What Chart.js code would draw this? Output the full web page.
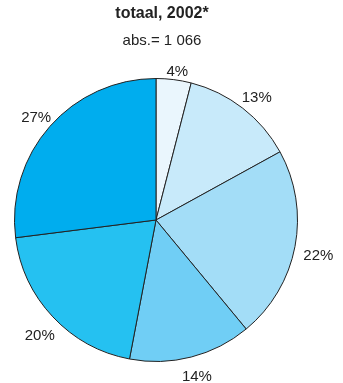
<!DOCTYPE html>
<html>
<head>
<meta charset="utf-8">
<script src="https://cdn.jsdelivr.net/npm/chart.js@4"></script>
<style>
  html, body { margin: 0; padding: 0; background: #fff; }
  #wrap { width: 343px; height: 383px; position: relative; }
</style>
</head>
<body>
<div id="wrap"><canvas id="pieChart" width="343" height="383"></canvas></div>
<script>
// Data
const chartTitle = 'totaal, 2002*';
const chartSubtitle = 'abs.= 1 066';
const categories = ['a', 'b', 'c', 'd', 'e', 'f'];
const shares = [4, 13, 22, 14, 20, 27];
const sliceLabels = ['4%', '13%', '22%', '14%', '20%', '27%'];
const sliceColors = ['#EAF6FD', '#C8EAFA', '#A3DDF7', '#70CEF5', '#25C1F1', '#00ADEE'];

const FONT = '"Liberation Sans", Arial, sans-serif';

// Titels en labels buiten de taart
const textPlugin = {
    id: 'pieText',
    afterDatasetsDraw(chart) {
        const ctx = chart.ctx;
        ctx.save();
        ctx.fillStyle = '#222';
        ctx.textAlign = 'center';
        ctx.textBaseline = 'middle';
        ctx.font = 'bold 16px ' + FONT;
        ctx.fillText(chartTitle, 162, 14);
        ctx.font = '15px ' + FONT;
        ctx.fillText(chartSubtitle, 162, 41);

        const meta = chart.getDatasetMeta(0);
        const h = 11;
        meta.data.forEach((arc, i) => {
            const p = arc.getProps(['x', 'y', 'startAngle', 'endAngle', 'outerRadius'], true);
            const mid = (p.startAngle + p.endAngle) / 2;
            const w = ctx.measureText(sliceLabels[i]).width;
            const c = Math.cos(mid), s = Math.sin(mid);
            // afstand tot de rand van het tekstvak
            const ext = Math.abs(c) * w / 2 + Math.abs(s) * h / 2;
            const r = p.outerRadius + 6 + ext;
            ctx.fillText(sliceLabels[i], p.x + c * r + 2, p.y + s * r + 5);
        });
        ctx.restore();
    }
};

new Chart(document.getElementById('pieChart').getContext('2d'), {
    type: 'pie',
    data: {
        labels: categories,
        datasets: [{
            data: shares,
            backgroundColor: sliceColors,
            borderColor: '#222',
            borderWidth: 1
        }]
    },
    options: {
        responsive: false,
        animation: false,
        layout: { padding: { left: 14, right: 45, top: 78, bottom: 21 } },
        plugins: {
            legend: { display: false },
            tooltip: { enabled: false }
        }
    },
    plugins: [textPlugin]
});
</script>
</body>
</html>
